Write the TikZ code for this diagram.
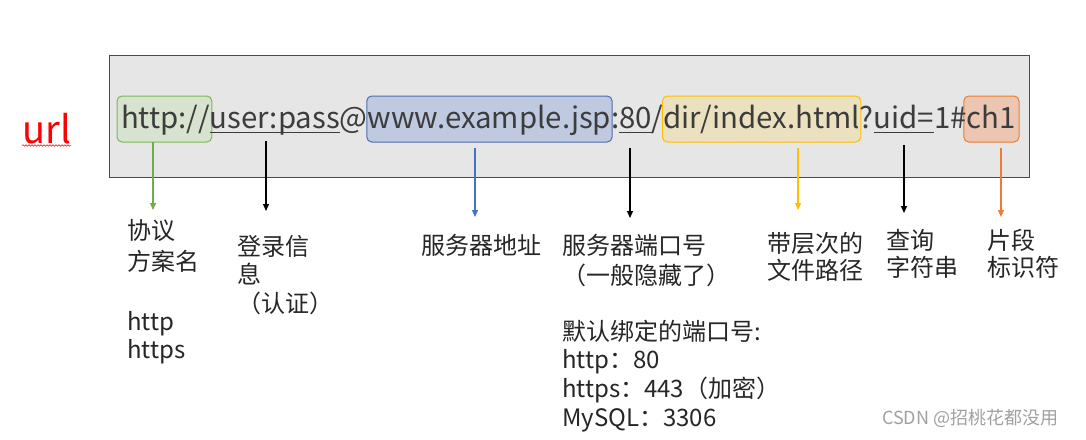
\documentclass[tikz,border=0pt]{standalone}
\usepackage{fontspec}
\setmainfont{Noto Sans CJK SC}
\usetikzlibrary{arrows.meta,backgrounds,fit,decorations.pathmorphing}
\definecolor{urltext}{HTML}{3C3C3C}
\definecolor{labtext}{HTML}{262626}
\definecolor{boxfill}{HTML}{E6E6E6}
\definecolor{boxline}{HTML}{4A4A4A}
\definecolor{gfill}{HTML}{D5E3CF}
\definecolor{gline}{HTML}{7CB957}
\definecolor{bfill}{HTML}{BFCAE0}
\definecolor{bline}{HTML}{4F6DAF}
\definecolor{yfill}{HTML}{ECE1BF}
\definecolor{yline}{HTML}{FFC000}
\definecolor{ofill}{HTML}{EBC6B2}
\definecolor{oline}{HTML}{ED7D31}
\definecolor{garrow}{HTML}{70AD47}
\definecolor{barrow}{HTML}{4472C4}
\definecolor{wmark}{HTML}{A0A0A0}
\begin{document}
\begin{tikzpicture}[x=1pt,y=-1pt,
  seg/.style={inner sep=0pt,outer sep=0pt,anchor=base west,text=urltext,
    font=\fontsize{29.4}{32}\selectfont},
  lab/.style={inner sep=0pt,outer sep=0pt,anchor=north west,align=left,text=labtext},
  hl/.style={rounded corners=5pt,line width=1pt,inner sep=0pt},
  arr/.style={-{Triangle[length=7pt,width=6pt]},line width=1.3pt},
  ul/.style={line width=0.9pt,draw=urltext}]
\useasboundingbox (0,0) rectangle (1086,439);

% url label
\node[inner sep=0pt,anchor=base west,text=red,font=\fontsize{38}{40}\selectfont] (url) at (22,143) {url};
\draw[red,line width=0.5pt,decorate,decoration={snake,amplitude=0.8pt,segment length=3pt}]
  ([yshift=-2.5pt]url.base west) -- ([yshift=-2.5pt]url.base east);

% URL text
\node[seg] (s1) at (121,128) {http://};
\node[seg] (s2) at (s1.base east) {user:pass};
\node[seg] (s3) at (s2.base east) {@};
\node[seg] (s4) at (s3.base east) {www.example.jsp};
\node[seg] (s5) at (s4.base east) {:};
\node[seg] (s6) at (s5.base east) {80};
\node[seg] (s7) at (s6.base east) {/};
\node[seg] (s8) at (s7.base east) {dir/index.html};
\node[seg] (s9) at (s8.base east) {?};
\node[seg] (s10) at (s9.base east) {uid=};
\node[seg] (s11) at (s10.base east) {1\#};
\node[seg] (s12) at (s11.base east) {ch1};

% underlines
\draw[ul] ([yshift=-4pt]s2.base west) -- ([yshift=-4pt]s2.base east);
\draw[ul] ([yshift=-4pt]s6.base west) -- ([yshift=-4pt]s6.base east);
\draw[ul] ([yshift=-4pt]s10.base west) -- ([yshift=-4pt]s10.base east);

\begin{scope}[on background layer]
  \node[draw=boxline,fill=boxfill,line width=1pt,inner sep=0pt,fit={(109,55) (1029,177)}] (frame) {};
  \node[hl,draw=gline,fill=gfill,fit={([xshift=-4pt]s1.west |- 0,96) ([xshift=2pt]s1.east |- 0,142)}] (b1) {};
  \node[hl,draw=bline,fill=bfill,fit={([xshift=-1pt]s4.west |- 0,96) ([xshift=1pt]s4.east |- 0,142)}] (b4) {};
  \node[hl,draw=yline,fill=yfill,fit={([xshift=-1pt]s8.west |- 0,96) ([xshift=1pt]s8.east |- 0,142)}] (b8) {};
  \node[hl,draw=oline,fill=ofill,fit={([xshift=-3pt]s12.west |- 0,96) ([xshift=3pt]s12.east |- 0,142)}] (b12) {};
\end{scope}

% labels
\node[lab,font=\fontsize{24}{31}\selectfont] (l1) at (127,219) {协议\\方案名};
\node[lab,font=\fontsize{24}{28}\selectfont] (l1b) at (127,311) {http\\https};
\node[lab,font=\fontsize{24}{28.5}\selectfont] (l2) at (237,235) {登录信\\息\\（认证）};
\node[lab,font=\fontsize{24}{30}\selectfont] (l3) at (421,234) {服务器地址};
\node[lab,font=\fontsize{24}{30}\selectfont] (l4) at (562,234) {服务器端口号\\（一般隐藏了）};
\node[lab,font=\fontsize{24}{28.6}\selectfont] (l4b) at (562,320) {默认绑定的端口号:\\http：80\\https：443（加密）\\MySQL：3306};
\node[lab,font=\fontsize{24}{27}\selectfont] (l5) at (767,232) {带层次的\\文件路径};
\node[lab,font=\fontsize{24}{27}\selectfont] (l6) at (886,229) {查询\\字符串};
\node[lab,font=\fontsize{24}{27}\selectfont] (l7) at (987,229) {片段\\标识符};

% arrows
\coordinate (a1s) at (153,142); \coordinate (a1e) at (153,210);
\coordinate (a2s) at (266,141); \coordinate (a2e) at (266,211);
\coordinate (a3s) at (475,148); \coordinate (a3e) at (475,217);
\coordinate (a4s) at (630,148); \coordinate (a4e) at (630,218);
\coordinate (a5s) at (798,148); \coordinate (a5e) at (798,210);
\coordinate (a6s) at (904,145); \coordinate (a6e) at (904,213);
\coordinate (a7s) at (1001,148); \coordinate (a7e) at (1001,217);
\draw[arr,garrow] (a1s) -- (a1e);
\draw[arr,black] (a2s) -- (a2e);
\draw[arr,barrow] (a3s) -- (a3e);
\draw[arr,black] (a4s) -- (a4e);
\draw[arr,yline] (a5s) -- (a5e);
\draw[arr,black] (a6s) -- (a6e);
\draw[arr,oline] (a7s) -- (a7e);

% watermark
\node[inner sep=0pt,anchor=west,text=wmark,font=\fontsize{18}{20}\selectfont] (wm) at (882,418) {CSDN @招桃花都没用};
\end{tikzpicture}
\end{document}
